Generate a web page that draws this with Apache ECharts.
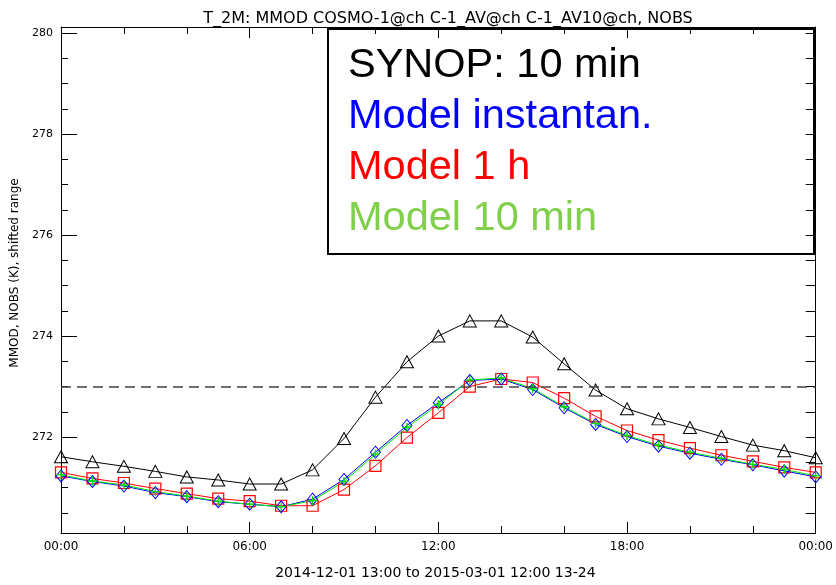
<!DOCTYPE html>
<html>
<head>
<meta charset="utf-8">
<script src="https://cdn.jsdelivr.net/npm/echarts@6/dist/echarts.min.js"></script>
<style>html,body{margin:0;padding:0;background:#fff}#c{width:836px;height:585px}</style>
</head>
<body>
<div id="c"></div>
<script>
const hours = [0,1,2,3,4,5,6,7,8,9,10,11,12,13,14,15,16,17,18,19,20,21,22,23,24];
const synop10min = [271.61,271.51,271.42,271.32,271.21,271.15,271.07,271.07,271.35,271.97,272.79,273.49,274.00,274.30,274.30,273.98,273.45,272.93,272.56,272.36,272.19,272.01,271.84,271.73,271.59];
const modelInstant = [271.23,271.12,271.03,270.90,270.82,270.72,270.67,270.62,270.77,271.16,271.70,272.23,272.68,273.12,273.15,272.94,272.58,272.25,272.01,271.82,271.68,271.56,271.45,271.33,271.21];
const model1h = [271.30,271.18,271.09,270.98,270.88,270.78,270.73,270.64,270.64,270.96,271.43,271.99,272.48,273.00,273.15,273.08,272.77,272.41,272.13,271.94,271.78,271.64,271.52,271.40,271.30];
const model10min = [271.25,271.13,271.05,270.92,270.83,270.73,270.67,270.62,270.74,271.12,271.66,272.19,272.64,273.13,273.17,272.96,272.60,272.27,272.03,271.84,271.70,271.58,271.46,271.36,271.23];
const seriesNames = ['SYNOP: 10 min','Model instantan.','Model 1 h','Model 10 min'];
const yMajorTicks = [272,274,276,278,280];
const yMinorTicks = [270.5,271,271.5,272.5,273,273.5,274.5,275,275.5,276.5,277,277.5,278.5,279,279.5];
const yAllTicks = [270.5,271,271.5,272,272.5,273,273.5,274,274.5,275,275.5,276,276.5,277,277.5,278,278.5,279,279.5,280];
const xMajorTicks = [0,6,12,18,24];
const xMinorTicks = [2,4,8,10,14,16,20,22];
const referenceLevel = 273;
const titleText = 'T_2M: MMOD COSMO-1@ch C-1_AV@ch C-1_AV10@ch, NOBS';
const xName = '2014-12-01 13:00 to 2015-03-01 12:00 13-24';
const yName = 'MMOD, NOBS (K), shifted range';

const pair = arr => hours.map((h,i)=>[h,arr[i]]);
const fmtHour = v => { const h = Math.round(v) % 24; return (h<10?'0':'')+h+':00'; };
const yMin = 270.1, yMax = 280.12;
const axisFont = {fontFamily:'DejaVu Sans', color:'#000'};
const tickLine = {color:'#000', width:1};

const chart = echarts.init(document.getElementById('c'), null, {renderer:'canvas'});
chart.setOption({
  backgroundColor:'#fff',
  animation:false,
  title:{text:titleText, left:443, textAlign:'center', top:6,
    textStyle:{fontFamily:'DejaVu Sans', fontSize:16, fontWeight:'normal', color:'#000'}},
  grid:{left:61, right:10, top:27, bottom:49},
  legend:{
    left:343, top:40, orient:'vertical', itemGap:0, itemWidth:0, itemHeight:0, padding:0,
    selectedMode:false,
    data:[
      {name:seriesNames[0], icon:'none', textStyle:{color:'#000'}},
      {name:seriesNames[1], icon:'none', textStyle:{color:'#0000ff'}},
      {name:seriesNames[2], icon:'none', textStyle:{color:'#ff0000'}},
      {name:seriesNames[3], icon:'none', textStyle:{color:'#80d04c'}}
    ],
    textStyle:{fontFamily:'Liberation Sans', fontSize:41.5, lineHeight:51}
  },
  graphic:[{type:'rect', left:327, top:28, z:-1, shape:{width:486, height:225},
    style:{fill:'#fff', stroke:'#000', lineWidth:2}}],
  xAxis:[
    {type:'value', min:0, max:24, position:'bottom',
      axisLine:{show:true, onZero:false, lineStyle:{color:'#000', width:1}},
      axisTick:{show:true, inside:true, length:11, customValues:xMajorTicks, lineStyle:tickLine},
      axisLabel:{customValues:xMajorTicks, formatter:fmtHour, margin:8, fontSize:12, ...axisFont},
      splitLine:{show:false},
      name:xName, nameLocation:'middle', nameGap:33,
      nameTextStyle:{fontFamily:'DejaVu Sans', fontSize:14, color:'#000', padding:[0,6,0,0]}},
    {type:'value', min:0, max:24, position:'bottom',
      axisLine:{show:false, onZero:false},
      axisTick:{show:true, inside:true, length:7, customValues:xMinorTicks, lineStyle:tickLine},
      axisLabel:{show:false}, splitLine:{show:false}},
    {type:'value', min:0, max:24, position:'top',
      axisLine:{show:true, onZero:false, lineStyle:{color:'#000', width:1}},
      axisTick:{show:true, inside:true, length:11, customValues:xMajorTicks, lineStyle:tickLine},
      axisLabel:{show:false}, splitLine:{show:false}},
    {type:'value', min:0, max:24, position:'top',
      axisLine:{show:false, onZero:false},
      axisTick:{show:true, inside:true, length:7, customValues:xMinorTicks, lineStyle:tickLine},
      axisLabel:{show:false}, splitLine:{show:false}}
  ],
  yAxis:[
    {type:'value', min:yMin, max:yMax, position:'left',
      axisLine:{show:true, onZero:false, lineStyle:{color:'#000', width:1}},
      axisTick:{show:true, inside:true, length:16, customValues:yMajorTicks, lineStyle:tickLine},
      axisLabel:{customValues:yMajorTicks, margin:8, fontSize:11, ...axisFont},
      splitLine:{show:false},
      name:yName, nameLocation:'middle', nameGap:36,
      nameTextStyle:{fontFamily:'DejaVu Sans', fontSize:12, color:'#000', padding:[0,0,0,14]}},
    {type:'value', min:yMin, max:yMax, position:'left',
      axisLine:{show:false, onZero:false},
      axisTick:{show:true, inside:true, length:7, customValues:yMinorTicks, lineStyle:tickLine},
      axisLabel:{show:false}, splitLine:{show:false}},
    {type:'value', min:yMin, max:yMax, position:'right',
      axisLine:{show:true, onZero:false, lineStyle:{color:'#000', width:1}},
      axisTick:{show:true, inside:true, length:10, customValues:yAllTicks, lineStyle:tickLine},
      axisLabel:{show:false}, splitLine:{show:false}}
  ],
  series:[
    {name:seriesNames[0], type:'line', data:pair(synop10min),
      symbol:'triangle', symbolSize:[13,12], showAllSymbol:true,
      lineStyle:{color:'#000', width:1},
      itemStyle:{color:'rgba(0,0,0,0)', borderColor:'#000', borderWidth:1},
      markLine:{silent:true, symbol:'none', label:{show:false},
        lineStyle:{color:'#444', type:[10,6], width:1.5},
        data:[{yAxis:referenceLevel}]}},
    {name:seriesNames[2], type:'line', data:pair(model1h),
      symbol:'rect', symbolSize:11, showAllSymbol:true,
      lineStyle:{color:'#ff0000', width:1},
      itemStyle:{color:'rgba(0,0,0,0)', borderColor:'#ff0000', borderWidth:1.2}},
    {name:seriesNames[1], type:'line', data:pair(modelInstant),
      symbol:'diamond', symbolSize:[10,12], showAllSymbol:true,
      lineStyle:{color:'#0000ff', width:1},
      itemStyle:{color:'rgba(0,0,0,0)', borderColor:'#0000ff', borderWidth:1}},
    {name:seriesNames[3], type:'line', data:pair(model10min),
      symbol:'path://M0,4L8,4M4,0L4,8', symbolSize:9, showAllSymbol:true,
      lineStyle:{color:'#00ee00', width:1},
      itemStyle:{color:'rgba(0,0,0,0)', borderColor:'#00dd00', borderWidth:1.3}}
  ]
});
</script>
</body>
</html>
